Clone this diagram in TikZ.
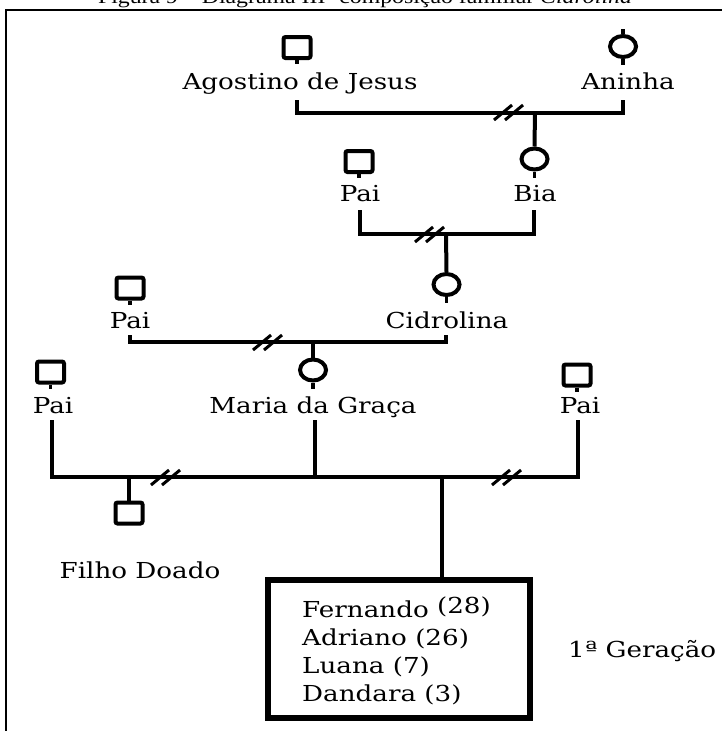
\documentclass[tikz,border=0pt]{standalone}
\usepackage{fontspec}
\usepackage{graphicx}
\setmainfont{DejaVu Serif}[FakeStretch=1.19]
\newfontfamily\capfont{Liberation Serif}[FakeStretch=1.19]
\usetikzlibrary{shapes.geometric}

\tikzset{
  male/.style={draw, line width=4pt, rounded corners=2pt, minimum width=27pt,
    minimum height=21pt, inner sep=0pt},
  female/.style={draw, ellipse, line width=4pt, minimum width=26pt,
    minimum height=21pt, inner sep=0pt},
  stub/.style={line width=3.5pt},
  pname/.style={font=\fontsize{22}{26}\selectfont, inner sep=0pt, anchor=base},
  kid/.style={font=\fontsize{22}{26}\selectfont, inner sep=0pt, anchor=base west},
  link/.style={line width=4pt},
  famibox/.style={draw, line width=5.5pt, minimum width=262pt, minimum height=138pt,
    inner sep=0pt},
  brkmark/.pic={
    \draw[line width=3pt] (-15,8) -- (3,-7);
    \draw[line width=3pt] (-4,8) -- (14,-7);
  },
  frameline/.style={line width=1.5pt},
  captext/.style={inner sep=0pt, anchor=base},
}

\begin{document}
\begin{tikzpicture}[x=1pt, y=-1pt]
\useasboundingbox (0,0) rectangle (722,731);
\clip (0,0) rectangle (722,731);

% caption (its upper part runs past the top edge) and frame
\node[captext] (cap) at (365,3.5)
  {\scalebox{2}{\capfont\fontsize{10}{12}\selectfont Figura 9 – Diagrama III- composição familiar \textit{Cidrolina}}};
\draw[frameline] (722,10) -- (6,10) -- (6,731);

% generation of Agostino and Aninha
\node[male] (ago) at (297,47.5) {};
\draw[stub] (ago.south) -- ++(0,4);
\node[pname] (agoL) at (300,89) {Agostino de Jesus};
\node[female] (ani) at (623,46.5) {};
\draw[stub] (ani.north) -- ++(0,-5);
\draw[stub] (ani.south) -- ++(0,6);
\node[pname] (aniL) at (628,89) {Aninha};

% Bia and her partner
\node[female] (bia) at (534.5,159) {};
\draw[stub] (bia.south) -- ++(0,6);
\node[pname] (biaL) at (535,201) {Bia};
\node[male] (pai2) at (359,161.5) {};
\draw[stub] (pai2.south) -- ++(0,4);
\node[pname] (pai2L) at (360,201) {Pai};

% Cidrolina and her partner
\node[female] (cid) at (446.5,284.5) {};
\draw[stub] (cid.south) -- ++(0,6);
\node[pname] (cidL) at (447,328) {Cidrolina};
\node[male] (pai3) at (130,288) {};
\draw[stub] (pai3.south) -- ++(0,4);
\node[pname] (pai3L) at (130,328) {Pai};

% Maria da Graça and her partners
\node[female] (mar) at (313,370) {};
\draw[stub] (mar.south) -- ++(0,6);
\node[pname] (marL) at (313,413) {Maria da Graça};
\node[male] (pai4) at (50.5,372) {};
\draw[stub] (pai4.south) -- ++(0,4);
\node[pname] (pai4L) at (53,413) {Pai};
\node[male] (pai5) at (577,375) {};
\draw[stub] (pai5.south) -- ++(0,4);
\node[pname] (pai5L) at (580,413) {Pai};

% children
\node[male] (fil) at (129,513) {};
\node[pname] (filL) at (140,578) {Filho Doado};
\node[famibox] (box) at (399,649) {};
\node[kid] (k1) at (302,617) {Fernando \raisebox{4pt}{(28)}};
\node[kid] (k2) at (302,645) {Adriano (26)};
\node[kid] (k3) at (302,673) {Luana (7)};
\node[kid] (k4) at (302,701) {Dandara (3)};
\node[kid] (gen) at (568,657) {1ª Geração};

% union lines
\coordinate (u1a) at (297,100);  \coordinate (u1b) at (623,100);
\coordinate (m1) at (535,112.5);
\draw[link] (u1a) |- (m1) -| (u1b);
\draw[link] (m1) -- (bia.north);
\pic at (509,112) {brkmark};

\coordinate (u2a) at (359.5,210); \coordinate (u2b) at (533.5,210);
\coordinate (m2) at (446,234);
\draw[link] (u2a) |- (m2) -| (u2b);
\draw[link] (m2) -- (cid.north);
\pic at (430,234) {brkmark};

\coordinate (u3a) at (130,335); \coordinate (u3b) at (446,335);
\coordinate (m3) at (313,342);
\draw[link] (u3a) |- (m3) -| (u3b);
\draw[link] (m3) -- (mar.north);
\pic at (268,342) {brkmark};

\coordinate (u4a) at (52,420); \coordinate (u4b) at (578,420);
\coordinate (u4c) at (315,420);
\coordinate (m4) at (129,477); \coordinate (m5) at (441.5,477);
\draw[link] (u4a) |- (m4) -- (m5) -| (u4b);
\draw[link] (u4c) -- (u4c |- m4);
\draw[link] (m4) -- (fil.north);
\draw[link] (m5) -- (m5 |- box.north);
\pic at (166,477) {brkmark};
\pic at (507,477) {brkmark};
\end{tikzpicture}
\end{document}
